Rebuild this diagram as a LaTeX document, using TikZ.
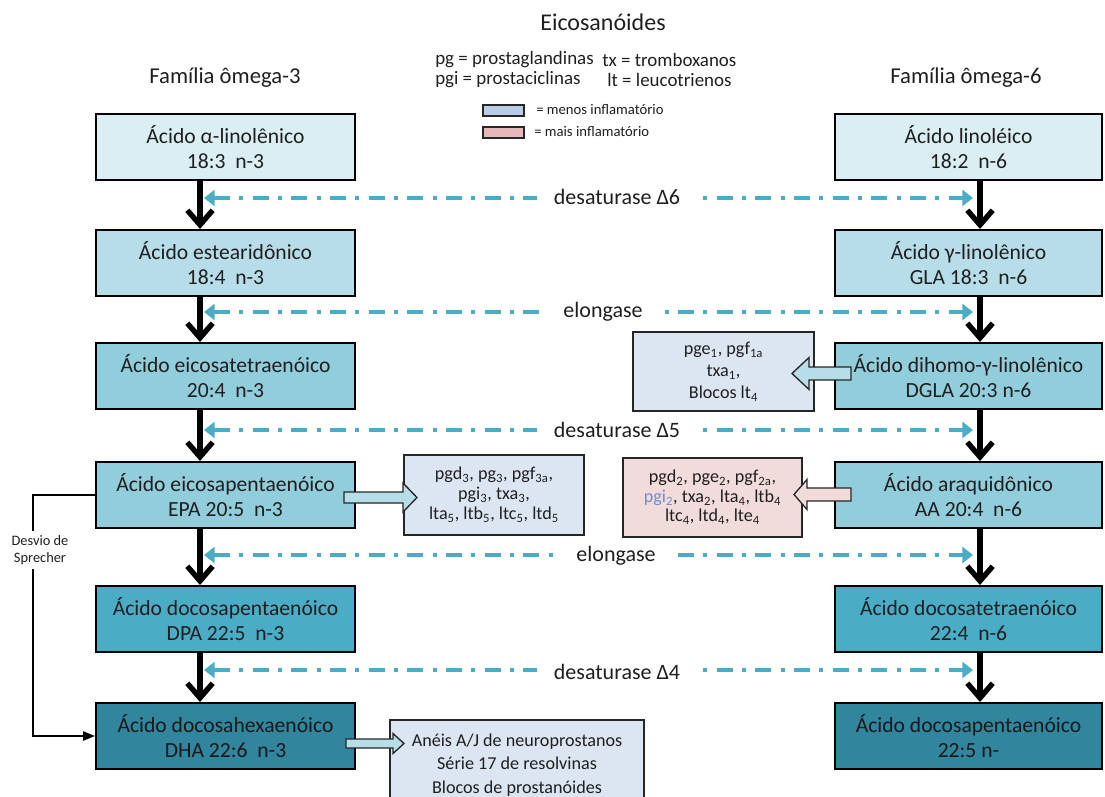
\documentclass[tikz,border=0pt]{standalone}
\usepackage{fontspec}
\setmainfont{Carlito}
\usetikzlibrary{arrows.meta,calc}
\definecolor{txt}{HTML}{1F1F1F}
\definecolor{cA}{HTML}{DBEEF4}
\definecolor{cB}{HTML}{B7DDE8}
\definecolor{cC}{HTML}{92CDDC}
\definecolor{cD}{HTML}{92CDDC}
\definecolor{cE}{HTML}{4BACC6}
\definecolor{cF}{HTML}{31859C}
\definecolor{tealc}{HTML}{4BACC6}
\definecolor{lav}{HTML}{DCE6F2}
\definecolor{pinkbox}{HTML}{F2DCDB}
\definecolor{legblue}{HTML}{B9CDE5}
\definecolor{legpink}{HTML}{E6B9B8}
\definecolor{pgiblue}{HTML}{6F8FC7}
\newcommand{\blk}[7]{\draw[#1] (#2,#5-#6) -- (#3,#5-#6) -- (#3,#5-#7) -- (#4,#5) -- (#3,#5+#7) -- (#3,#5+#6) -- (#2,#5+#6) -- cycle;}
\newcommand{\sbs}[1]{\textsubscript{#1}}
\begin{document}
\begin{tikzpicture}[x=0.75pt,y=-0.75pt,
  box/.style={draw=black, line width=1.5pt, align=center, text=txt,
    font=\fontsize{16.2}{18.5}\selectfont, minimum height=49.5pt, inner sep=0pt},
  lbox/.style={box, minimum width=194.25pt},
  rbox/.style={box, minimum width=200.25pt},
  side/.style={draw=black!85, line width=1.1pt, align=center, text=txt, inner sep=0pt},
  flow/.style={draw=black, line width=4pt, -{Straight Barb[length=11pt,width=19pt]}},
  tealline/.style={draw=tealc, line width=2.8pt, dash pattern=on 12pt off 7pt on 3pt off 7pt,
    {Triangle[length=8pt,width=12pt]}-{Triangle[length=8pt,width=12pt]}},
  lab/.style={fill=white, text=txt, font=\fontsize{16.5}{19}\selectfont, inner xsep=13pt, inner ysep=2pt},
  barB/.style={draw=black!85, line width=1pt, fill=cB},
  barP/.style={draw=black!85, line width=1pt, fill=pinkbox},
  legtxt/.style={text=txt, font=\fontsize{14.2}{17}\selectfont, anchor=west, inner sep=0pt},
  legsm/.style={text=txt, font=\fontsize{11}{13}\selectfont, anchor=west, inner sep=0pt},
  spr/.style={draw=black, line width=1.1pt}
]
\useasboundingbox (0,0) rectangle (1105,796);
\clip (0,0) rectangle (1105,796);

% titles
\node[text=txt, font=\fontsize{18}{22}\selectfont] (title) at (603,22) {Eicosanóides};
\node[text=txt, font=\fontsize{17}{20}\selectfont] (fam3) at (225,78) {Família ômega-3};
\node[text=txt, font=\fontsize{17}{20}\selectfont] (fam6) at (966,78) {Família ômega-6};

% legend
\node[legtxt] (lg1) at (435,60) {pg = prostaglandinas};
\node[legtxt] (lg2) at (602,60) {tx = tromboxanos};
\node[legtxt] (lg3) at (435,80) {pgi = prostaciclinas};
\node[legtxt] (lg4) at (607,80) {lt = leucotrienos};
\node[draw=black!85, line width=0.9pt, fill=legblue, minimum width=30.75pt, minimum height=8.25pt, inner sep=0pt] (lgb) at (503.5,110.5) {};
\node[draw=black!85, line width=0.9pt, fill=legpink, minimum width=30.75pt, minimum height=8.25pt, inner sep=0pt] (lgp) at (503.5,132.5) {};
\node[legsm] (lgbt) at (536,110) {= menos inflamatório};
\node[legsm] (lgpt) at (534,132) {= mais inflamatório};

% main boxes
\node[lbox, fill=cA] (L1) at (225.5,147) {Ácido α-linolênico\\18:3~ n-3};
\node[lbox, fill=cB] (L2) at (225.5,263) {Ácido estearidônico\\18:4~ n-3};
\node[lbox, fill=cC] (L3) at (225.5,376) {Ácido eicosatetraenóico\\20:4~ n-3};
\node[lbox, fill=cD] (L4) at (225.5,495) {Ácido eicosapentaenóico\\EPA 20:5~ n-3};
\node[lbox, fill=cE] (L5) at (225.5,619) {Ácido docosapentaenóico\\DPA 22:5~ n-3};
\node[lbox, fill=cF, text=black!90] (L6) at (225.5,736) {Ácido docosahexaenóico\\DHA 22:6~ n-3};

\node[rbox, fill=cA] (R1) at (968.5,147) {Ácido linoléico\\18:2~ n-6};
\node[rbox, fill=cB] (R2) at (968.5,263) {Ácido γ-linolênico\\GLA 18:3~ n-6};
\node[rbox, fill=cC] (R3) at (968.5,376) {Ácido dihomo-γ-linolênico\\DGLA 20:3 n-6};
\node[rbox, fill=cD] (R4) at (968.5,495) {Ácido araquidônico\\AA 20:4~ n-6};
\node[rbox, fill=cE] (R5) at (968.5,619) {Ácido docosatetraenóico\\22:4~ n-6};
\node[rbox, fill=cF, text=black!90] (R6) at (968.5,736) {Ácido docosapentaenóico\\22:5 n-};

% side boxes
\node[side, fill=lav, minimum width=135.75pt, minimum height=59.25pt, font=\fontsize{13.6}{16.5}\selectfont] (S3) at (723.5,371.5)
  {pge\sbs{1}, pgf\sbs{1a}\\txa\sbs{1},\\Blocos lt\sbs{4}};
\node[side, fill=lav, minimum width=135pt, minimum height=60pt, font=\fontsize{13.6}{15}\selectfont] (S4L) at (494,495)
  {pgd\sbs{3}, pg\sbs{3}, pgf\sbs{3a},\\pgi\sbs{3}, txa\sbs{3},\\lta\sbs{5}, ltb\sbs{5}, ltc\sbs{5}, ltd\sbs{5}};
\node[side, fill=pinkbox, minimum width=134.25pt, minimum height=59.25pt, font=\fontsize{13.6}{14.6}\selectfont] (S4R) at (712.5,497.5)
  {pgd\sbs{2}, pge\sbs{2}, pgf\sbs{2a},\\\textcolor{pgiblue}{pgi\sbs{2}}, txa\sbs{2}, lta\sbs{4}, ltb\sbs{4}\\ltc\sbs{4}, ltd\sbs{4}, lte\sbs{4}};
\node[side, fill=lav, minimum width=190.5pt, minimum height=67.5pt, font=\fontsize{13.6}{17.6}\selectfont] (S6) at (517,765)
  {Anéis A/J de neuroprostanos\\Série 17 de resolvinas\\Blocos de prostanóides};

% block arrows
\begin{scope}[shift={(L4.east)}]\blk{barB}{-12}{47}{61}{2.5}{5.5}{14.5}\end{scope}
\begin{scope}[shift={(L6.east)}]\blk{barB}{-10}{37}{48}{7.5}{4.5}{10}\end{scope}
\begin{scope}[shift={(R3.west)}]\blk{barB}{17}{-25}{-42}{-2.5}{6.5}{16}\end{scope}
\begin{scope}[shift={(R4.west)}]\blk{barP}{17}{-27}{-40}{-0.5}{6.5}{15}\end{scope}

% flow arrows
\coordinate (xL) at (200,0);
\coordinate (xR) at (980,0);
\draw[flow] (L1.south -| xL) -- (L2.north -| xL);
\draw[flow] (L2.south -| xL) -- (L3.north -| xL);
\draw[flow] (L3.south -| xL) -- (L4.north -| xL);
\draw[flow] (L4.south -| xL) -- (L5.north -| xL);
\draw[flow] (L5.south -| xL) -- (L6.north -| xL);
\draw[flow] (R1.south -| xR) -- (R2.north -| xR);
\draw[flow] (R2.south -| xR) -- (R3.north -| xR);
\draw[flow] (R3.south -| xR) -- (R4.north -| xR);
\draw[flow] (R4.south -| xR) -- (R5.north -| xR);
\draw[flow] (R5.south -| xR) -- (R6.north -| xR);

% enzyme lines
\foreach \i/\y in {1/198,2/312,3/430,4/555,5/670}{
  \coordinate (dl\i) at (204,\y);
  \coordinate (dr\i) at (973,\y);
  \draw[tealline] (dl\i) -- (dr\i);
}
\node[lab] (e1) at (617,197) {desaturase Δ6};
\node[lab] (e2) at (603,312) {elongase};
\node[lab] (e3) at (617,430) {desaturase Δ5};
\node[lab] (e4) at (616,556) {elongase};
\node[lab] (e5) at (617,672) {desaturase Δ4};

% Sprecher shunt
\coordinate (spx) at (33,0);
\draw[spr, -{Triangle[length=9pt,width=7pt]}] (L4.west) -- (L4.west -| spx) -- (L6.west -| spx) -- (L6.west);
\node[fill=white, text=txt, align=center, font=\fontsize{10.8}{13}\selectfont, inner xsep=1pt, inner ysep=3pt] (spr) at (40,550) {Desvio de\\Sprecher};
\end{tikzpicture}
\end{document}
